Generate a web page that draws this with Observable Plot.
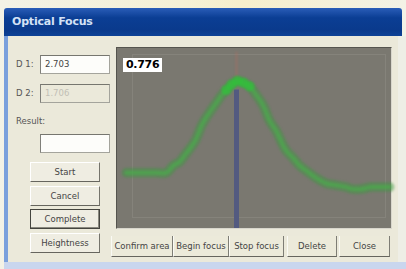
<!DOCTYPE html>
<html>
<head>
<meta charset="utf-8">
<script src="https://cdn.jsdelivr.net/npm/d3@7"></script>
<script src="https://cdn.jsdelivr.net/npm/@observablehq/plot@0.6"></script>
<style>
  html, body { margin: 0; padding: 0; }
  body { width: 406px; height: 269px; overflow: hidden; position: relative;
         background: linear-gradient(90deg, #f3f2e6 0%, #f6f1d6 45%, #f7efcc 60%, #f3f2e6 100%);
         font-family: "DejaVu Sans", "Liberation Sans", sans-serif; }
  .abs { position: absolute; }
  #title { left: 4px; top: 8px; width: 398px; height: 28px;
           background: linear-gradient(180deg, #2a5db8 0%, #0b3e94 35%, #0a3a8c 80%, #0d4296 100%);
           border-radius: 3px 3px 0 0; }
  #title span { position: absolute; left: 8px; top: 7px; color: #d4e2f6; font-weight: bold; font-size: 11px;
                font-family: "DejaVu Sans", sans-serif; letter-spacing: -0.2px; }
  #frame { left: 4px; top: 36px; width: 394px; height: 226px; background: #ebe9da;
           border-left: 4px solid #7aa0dc; box-sizing: border-box; }
  #rightedge { left: 398px; top: 36px; width: 8px; height: 226px; background: #eeeee6; }
  #bottom { left: 4px; top: 262px; width: 402px; height: 7px; background: #c9d6ee; }
  .lbl { font-size: 8.5px; color: #555; }
  .inp { box-sizing: border-box; width: 70px; height: 19px; border: 1px solid #a4a49c;
         border-top-color: #76766f; border-left-color: #80807a; background: #fdfdfa;
         font-size: 8.5px; color: #444; padding: 3px 0 0 4px; }
  .btn { box-sizing: border-box; width: 70px; height: 20px; background: #efede2;
         border: 1px solid #ffffff; border-right-color: #75746c; border-bottom-color: #66655e;
         font-size: 8.5px; color: #444; text-align: center; line-height: 18px; }
  .btn.def { border: 1px solid #45453f; box-shadow: inset -1px -1px 0 #8a897f; }
  .tb { box-sizing: border-box; height: 21px; background: #eceada;
        border-right: 1px solid #7e7d75; border-bottom: 1px solid #66655e; border-left: 1px solid #fafaf4;
        font-size: 8.5px; color: #444; text-align: center; line-height: 20px; white-space: nowrap; }
  #panel { left: 116px; top: 47px; width: 276px; height: 182px; box-sizing: border-box;
           border: 1px solid #55544e; border-right-color: #d8d6cc; border-bottom-color: #d8d6cc; background: #7a7870; }
  #panel svg { display: block; }
  #panel g[stroke="#3f9a40"], #panel g[stroke="#46b04a"], #panel g[fill="#30c03a"] { filter: blur(1.2px); }
  #panel g[stroke="#b06a60"] { filter: blur(0.8px); }
  #val { left: 6px; top: 10px; background: #ffffff; color: #000; font-weight: bold; font-size: 11px;
         padding: 0 3px; line-height: 14px; font-family: "DejaVu Sans", sans-serif; letter-spacing: -0.3px; }
</style>
</head>
<body>
<div id="title" class="abs"><span>Optical Focus</span></div>
<div id="frame" class="abs"></div>
<div id="rightedge" class="abs"></div>
<div id="bottom" class="abs"></div>

<div class="abs lbl" style="left:16px;top:59px;">D 1:</div>
<div class="abs inp" style="left:40px;top:55px;">2.703</div>
<div class="abs lbl" style="left:16px;top:88px;">D 2:</div>
<div class="abs inp" style="left:40px;top:84px;background:#ebe9da;color:#c2c0b6;">1.706</div>
<div class="abs lbl" style="left:16px;top:116px;">Result:</div>
<div class="abs inp" style="left:40px;top:134px;"></div>

<div class="abs btn" style="left:30px;top:162px;">Start</div>
<div class="abs btn" style="left:30px;top:186px;">Cancel</div>
<div class="abs btn def" style="left:30px;top:209px;">Complete</div>
<div class="abs btn" style="left:30px;top:233px;">Heightness</div>

<div class="abs tb" style="left:111px;top:236px;width:62px;">Confirm area</div>
<div class="abs tb" style="left:173px;top:236px;width:56px;">Begin focus</div>
<div class="abs tb" style="left:229px;top:236px;width:55px;">Stop focus</div>
<div class="abs tb" style="left:287px;top:236px;width:50px;">Delete</div>
<div class="abs tb" style="left:339px;top:236px;width:51px;">Close</div>

<div id="panel" class="abs"><div id="val" class="abs">0.776</div></div>

<script>
// focus scan: lens position (steps) and normalised sharpness value
const positions = [9, 19, 29, 39, 49, 56, 62, 69, 77, 84, 89, 94, 99, 104, 109, 114, 120, 126, 132, 139, 146, 152, 159, 164, 169, 176, 182, 189, 199, 209, 219, 229, 234, 244, 254, 264, 272];
const focusValues = [0.31, 0.31, 0.31, 0.31, 0.31, 0.35, 0.37, 0.42, 0.48, 0.57, 0.62, 0.66, 0.70, 0.74, 0.77, 0.80, 0.82, 0.81, 0.79, 0.74, 0.68, 0.60, 0.54, 0.48, 0.43, 0.39, 0.35, 0.32, 0.28, 0.25, 0.24, 0.23, 0.22, 0.22, 0.23, 0.23, 0.23];
const bestPosition = [119];
const bestValue = [0.776];

const scan = positions.map((p, i) => ({position: p, value: focusValues[i]}));

const chart = Plot.plot({
  width: 274,
  height: 180,
  margin: 0,
  style: {background: "#7a7870", overflow: "visible"},
  x: {domain: [0, 274], axis: null},
  y: {domain: [0, 1], axis: null},
  marks: [
    Plot.frame({stroke: "#85837b", strokeWidth: 1, insetLeft: 15, insetRight: 6, insetTop: 6, insetBottom: 11}),
    Plot.ruleX(bestPosition, {x: d => d, y1: 0.82, y2: 0.98, stroke: "#b06a60", strokeWidth: 2, strokeOpacity: 0.45}),
    Plot.ruleX(bestPosition, {x: d => d, y1: 0, y2: 0.77, stroke: "#535a80", strokeWidth: 5}),
    Plot.line(scan, {x: "position", y: "value", curve: "catmull-rom", stroke: "#3f9a40", strokeWidth: 10, strokeOpacity: 0.45}),
    Plot.line(scan, {x: "position", y: "value", curve: "catmull-rom", stroke: "#46b04a", strokeWidth: 4, strokeOpacity: 0.6}),
    Plot.dot(scan.filter(d => d.value > 0.76), {x: "position", y: "value", r: 5, fill: "#30c03a", fillOpacity: 0.75})
  ]
});
document.getElementById("panel").appendChild(chart);
</script>
</body>
</html>
